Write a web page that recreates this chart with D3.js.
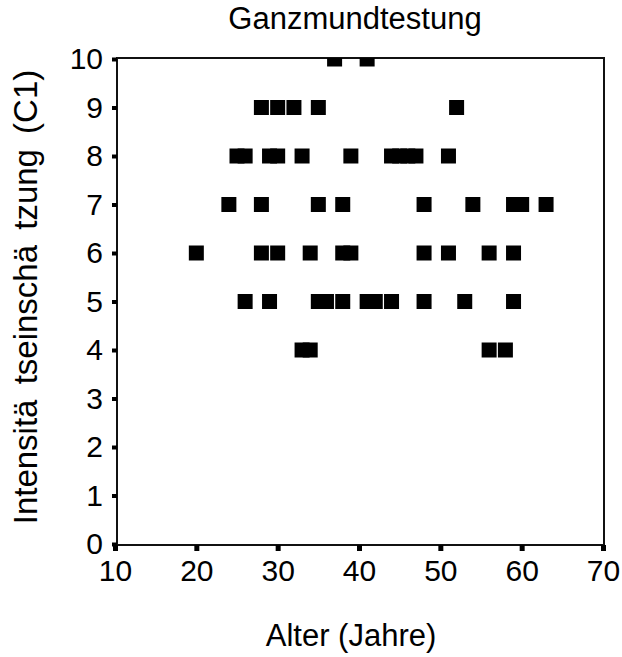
<!DOCTYPE html>
<html><head><meta charset="utf-8">
<script src="https://cdn.jsdelivr.net/npm/d3@7"></script>
<style>body{margin:0;background:#fff}svg{display:block}text{font-family:"Liberation Sans",Arial,sans-serif;fill:#000}</style>
</head><body><svg id="c" width="622" height="657"></svg>
<script>
const title = "Ganzmundtestung";
const xLabel = "Alter (Jahre)";
const yLabel = "Intensitä tseinschä tzung (C1)";
const xTicks = [10,20,30,40,50,60,70];
const yTicks = [0,1,2,3,4,5,6,7,8,9,10];
// age (years) and intensity rating (C1)
const ages =      [37,41, 28,30,32,35,52, 25,26,29,30,33,39,44,45,46,47,51, 24,28,35,38,48,54,59,60,63, 20,28,30,34,38,39,48,51,56,59, 26,29,35,36,38,41,42,44,48,53,59, 33,34,56,58];
const intensity = [10,10, 9,9,9,9,9, 8,8,8,8,8,8,8,8,8,8,8, 7,7,7,7,7,7,7,7,7, 6,6,6,6,6,6,6,6,6,6, 5,5,5,5,5,5,5,5,5,5,5, 4,4,4,4];
const points = ages.map((a,i)=>({age:a, val:intensity[i]}));

const svg = d3.select("#c");
const x = d3.scaleLinear().domain([10,70]).range([115,603]);
const y = d3.scaleLinear().domain([0,10]).range([544,59]);
const pL = 117, pR = 604, pT = 58, pB = 545;

svg.append("defs").append("clipPath").attr("id","clip")
  .append("rect").attr("x",pL).attr("y",pT).attr("width",pR-pL).attr("height",pB-pT+8);

// frame
svg.append("rect").attr("x",pL).attr("y",pT).attr("width",pR-pL).attr("height",pB-pT)
  .attr("fill","none").attr("stroke","#111").attr("stroke-width",2);

// points
const s = 15;
svg.append("g").attr("clip-path","url(#clip)").selectAll("rect").data(points).join("rect")
  .attr("x",d=>x(d.age)-s/2).attr("y",d=>y(d.val)-s/2).attr("width",s).attr("height",s).attr("fill","#000");

// axes
const xAxis = d3.axisBottom(x).tickValues(xTicks).tickSize(6).tickPadding(9);
const gx = svg.append("g").attr("transform",`translate(0,${pB})`).call(xAxis);
gx.select(".domain").remove();
gx.selectAll(".tick line").attr("stroke","#000").attr("stroke-width",5);
gx.selectAll(".tick text").attr("font-size",30).attr("font-family","Liberation Sans, Arial, sans-serif");

const yAxis = d3.axisLeft(y).tickValues(yTicks).tickSize(5).tickPadding(9);
const gy = svg.append("g").attr("transform",`translate(${pL},0)`).call(yAxis);
gy.select(".domain").remove();
gy.selectAll(".tick line").attr("stroke","#000").attr("stroke-width",4);
gy.selectAll(".tick text").attr("font-size",30).attr("font-family","Liberation Sans, Arial, sans-serif");

svg.append("text").attr("x",355).attr("y",29).attr("text-anchor","middle").attr("font-size",31).text(title);
svg.append("text").attr("x",351).attr("y",646).attr("text-anchor","middle").attr("font-size",31).text(xLabel);
svg.append("text").attr("transform","translate(37,297) rotate(-90)").attr("text-anchor","middle")
  .attr("font-size",33).attr("word-spacing",6).text(yLabel);
</script></body></html>
